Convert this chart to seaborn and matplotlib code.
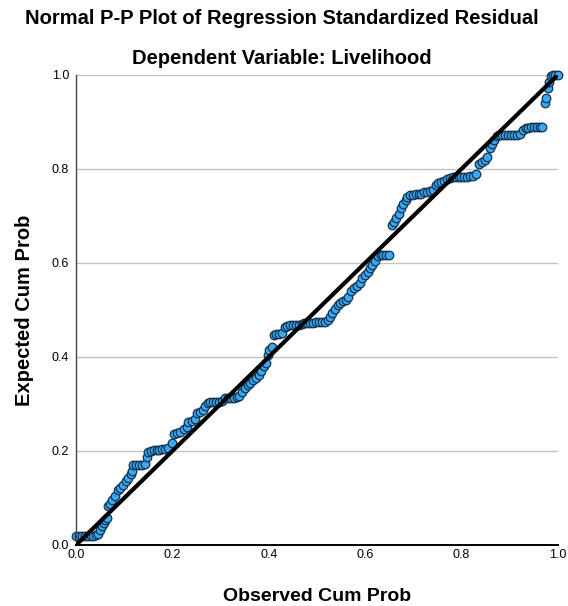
import matplotlib
matplotlib.use("Agg")
import matplotlib.pyplot as plt
import seaborn as sns
import pandas as pd

# observed vs expected cumulative probabilities
obs_cum_prob = [
    0.000, 0.006, 0.012, 0.018, 0.024, 0.030, 0.035, 0.041, 0.046, 0.050,
    0.054, 0.057, 0.061, 0.064, 0.066, 0.070, 0.075, 0.081, 0.087, 0.092,
    0.098, 0.103, 0.108, 0.113, 0.117, 0.119, 0.124, 0.130, 0.136, 0.142,
    0.147, 0.150, 0.155, 0.161, 0.167, 0.173, 0.179, 0.185, 0.191, 0.199,
    0.203, 0.209, 0.216, 0.223, 0.230, 0.233, 0.240, 0.247, 0.251, 0.257,
    0.263, 0.268, 0.273, 0.279, 0.285, 0.291, 0.297, 0.303, 0.309, 0.315,
    0.321, 0.327, 0.333, 0.339, 0.344, 0.350, 0.356, 0.362, 0.368, 0.374,
    0.379, 0.384, 0.390, 0.394, 0.398, 0.401, 0.406, 0.410, 0.415, 0.421,
    0.427, 0.433, 0.438, 0.444, 0.450, 0.456, 0.462, 0.468, 0.474, 0.480,
    0.486, 0.492, 0.498, 0.504, 0.510, 0.516, 0.522, 0.528, 0.532, 0.537,
    0.543, 0.548, 0.554, 0.560, 0.565, 0.571, 0.576, 0.583, 0.589, 0.594,
    0.600, 0.605, 0.610, 0.615, 0.620, 0.626, 0.632, 0.638, 0.644, 0.650,
    0.655, 0.660, 0.665, 0.670, 0.675, 0.679, 0.684, 0.688, 0.693, 0.699,
    0.705, 0.711, 0.717, 0.723, 0.729, 0.735, 0.741, 0.747, 0.752, 0.758,
    0.764, 0.770, 0.776, 0.782, 0.788, 0.794, 0.800, 0.806, 0.812, 0.818,
    0.824, 0.831, 0.837, 0.842, 0.848, 0.854, 0.859, 0.863, 0.868, 0.873,
    0.879, 0.885, 0.891, 0.897, 0.903, 0.909, 0.915, 0.921, 0.927, 0.933,
    0.939, 0.945, 0.951, 0.957, 0.963, 0.968, 0.973, 0.976, 0.980, 0.982,
    0.985, 0.990, 0.995, 1.000,
]
exp_cum_prob = [
    0.020, 0.020, 0.020, 0.020, 0.020, 0.020, 0.019, 0.021, 0.024, 0.032,
    0.040, 0.047, 0.053, 0.058, 0.082, 0.088, 0.096, 0.105, 0.116, 0.121,
    0.128, 0.136, 0.143, 0.150, 0.158, 0.170, 0.170, 0.170, 0.170, 0.172,
    0.187, 0.198, 0.201, 0.202, 0.202, 0.203, 0.204, 0.205, 0.207, 0.217,
    0.236, 0.239, 0.241, 0.246, 0.250, 0.262, 0.264, 0.267, 0.280, 0.283,
    0.288, 0.295, 0.303, 0.304, 0.304, 0.304, 0.305, 0.306, 0.312, 0.313,
    0.313, 0.313, 0.314, 0.316, 0.326, 0.335, 0.340, 0.345, 0.350, 0.356,
    0.362, 0.370, 0.380, 0.388, 0.405, 0.415, 0.421, 0.447, 0.449, 0.449,
    0.450, 0.463, 0.466, 0.467, 0.467, 0.468, 0.469, 0.470, 0.472, 0.473,
    0.473, 0.473, 0.474, 0.474, 0.474, 0.475, 0.478, 0.486, 0.494, 0.503,
    0.510, 0.515, 0.519, 0.521, 0.528, 0.540, 0.547, 0.550, 0.557, 0.568,
    0.574, 0.581, 0.590, 0.596, 0.605, 0.614, 0.616, 0.616, 0.617, 0.617,
    0.680, 0.688, 0.696, 0.705, 0.716, 0.725, 0.734, 0.740, 0.744, 0.745,
    0.746, 0.746, 0.747, 0.750, 0.752, 0.754, 0.756, 0.765, 0.770, 0.772,
    0.775, 0.778, 0.781, 0.782, 0.783, 0.783, 0.783, 0.783, 0.783, 0.784,
    0.785, 0.790, 0.810, 0.815, 0.820, 0.825, 0.845, 0.853, 0.862, 0.870,
    0.872, 0.872, 0.872, 0.872, 0.872, 0.872, 0.873, 0.874, 0.883, 0.887,
    0.888, 0.889, 0.889, 0.889, 0.889, 0.890, 0.940, 0.950, 0.972, 0.985,
    0.998, 1.000, 1.000, 1.000,
]
ref_line = [0.0, 1.0]
ticks = [0.0, 0.2, 0.4, 0.6, 0.8, 1.0]

df = pd.DataFrame({"observed": obs_cum_prob, "expected": exp_cum_prob})

sns.set_style("white")
plt.rcParams["font.family"] = ["Liberation Sans", "DejaVu Sans"]
plt.rcParams["text.color"] = "black"
plt.rcParams["axes.labelcolor"] = "black"
plt.rcParams["xtick.color"] = "black"
plt.rcParams["ytick.color"] = "black"

fig = plt.figure(figsize=(5.68, 6.06), dpi=100)
ax = fig.add_axes([0.134, 0.1007, 0.848, 0.7756])

# horizontal grid only
for t in ticks[1:]:
    ax.axhline(t, color="#c4c4c4", lw=1.0, zorder=0)

sns.scatterplot(data=df, x="observed", y="expected", ax=ax,
                s=38, color="#3aa8f0", edgecolor="#13324f", linewidth=0.9,
                zorder=2, clip_on=False)
sns.lineplot(x=ref_line, y=ref_line, ax=ax, color="black", lw=3, zorder=3)

ax.set_xlim(0, 1)
ax.set_ylim(0, 1)
ax.set_xticks(ticks)
ax.set_yticks(ticks)
ax.set_xticklabels([f"{t:.1f}" for t in ticks], fontsize=9)
ax.set_yticklabels([f"{t:.1f}" for t in ticks], fontsize=9)
ax.tick_params(axis="y", length=3, width=0.8, color="#444444", pad=2)
ax.tick_params(axis="x", length=0, pad=3)

for s in ["top", "right"]:
    ax.spines[s].set_visible(False)
ax.spines["left"].set_color("#444444")
ax.spines["left"].set_linewidth(1.0)
ax.spines["bottom"].set_color("black")
ax.spines["bottom"].set_linewidth(1.4)

ax.set_xlabel("Observed Cum Prob", fontsize=14, fontweight="bold", labelpad=19)
ax.set_ylabel("Expected Cum Prob", fontsize=14.5, fontweight="bold", labelpad=13)

fig.text(0.497, 0.970, "Normal P-P Plot of Regression Standardized Residual",
         ha="center", va="center", fontsize=14.5, fontweight="bold")
fig.text(0.497, 0.904, "Dependent Variable: Livelihood",
         ha="center", va="center", fontsize=14.5, fontweight="bold")

fig.savefig("out.png", dpi=100)
